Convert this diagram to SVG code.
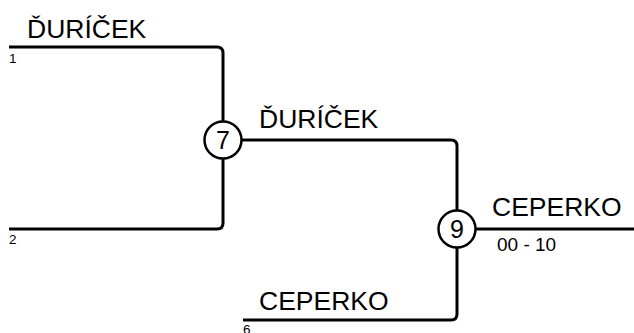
<svg xmlns="http://www.w3.org/2000/svg" width="634" height="333" viewBox="0 0 634 333">
<style>
.ln{fill:none;stroke:#000;stroke-width:3}
.nd{fill:#fff;stroke:#000;stroke-width:2.5}
.big{font-family:"Liberation Sans",Arial,sans-serif;font-size:26.5px;fill:#000}
.num{font-family:"Liberation Sans",Arial,sans-serif;font-size:25px;fill:#000;text-anchor:middle}
.sm{font-family:"Liberation Sans",Arial,sans-serif;font-size:13.5px;fill:#000}
.sc{font-family:"Liberation Sans",Arial,sans-serif;font-size:19px;fill:#000}
</style>
<rect width="634" height="333" fill="#fff"/>
<g id="connectors">
<path class="ln" d="M9,47 H217 Q223,47 223,53 V140"/>
<path class="ln" d="M9,229 H217 Q223,229 223,223 V140"/>
<path class="ln" d="M223,140 H451 Q457,140 457,146 V229"/>
<path class="ln" d="M243,320 H451 Q457,320 457,314 V229"/>
<path class="ln" d="M457,229 H634"/>
</g>
<g id="entry1"><text class="big" x="27" y="38">ĎURÍČEK</text><text class="sm" x="9" y="63">1</text></g>
<g id="entry2"><text class="sm" x="9" y="244">2</text></g>
<g id="entry6"><text class="big" x="259" y="310">CEPERKO</text><text class="sm" x="243" y="334">6</text></g>
<g id="node7"><circle class="nd" cx="223" cy="140" r="18.5"/><text class="num" x="223" y="149">7</text></g>
<g id="label7"><text class="big" x="259" y="128">ĎURÍČEK</text></g>
<g id="node9"><circle class="nd" cx="457" cy="229" r="18.5"/><text class="num" x="457" y="238">9</text></g>
<g id="label9"><text class="big" x="492" y="216">CEPERKO</text><text class="sc" x="497" y="251">00 - 10</text></g>
</svg>
